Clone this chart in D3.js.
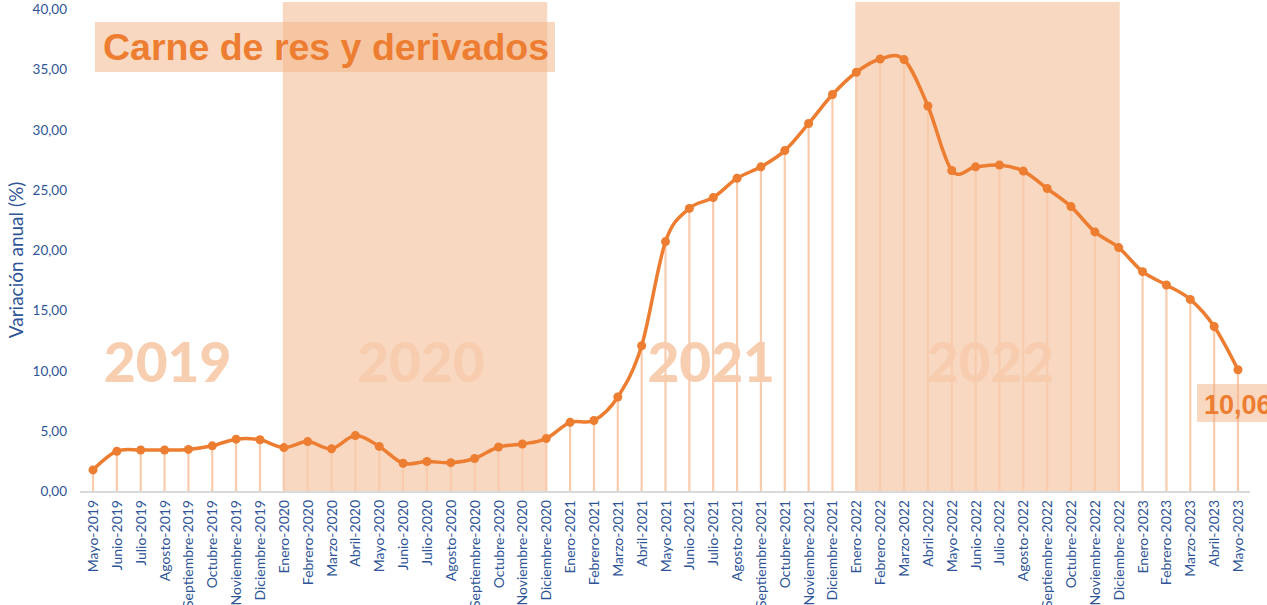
<!DOCTYPE html>
<html>
<head>
<meta charset="utf-8">
<script src="https://cdn.jsdelivr.net/npm/d3@7"></script>
<style>
  body { margin: 0; background: #fff; }
  svg { display: block; font-family: "Lato", "Open Sans", sans-serif; }
</style>
</head>
<body>
<svg id="chart" width="1267" height="605"></svg>
<script>
// data
const labels = [
  "Mayo-2019","Junio-2019","Julio-2019","Agosto-2019","Septiembre-2019","Octubre-2019","Noviembre-2019","Diciembre-2019",
  "Enero-2020","Febrero-2020","Marzo-2020","Abril-2020","Mayo-2020","Junio-2020","Julio-2020","Agosto-2020","Septiembre-2020","Octubre-2020","Noviembre-2020","Diciembre-2020",
  "Enero-2021","Febrero-2021","Marzo-2021","Abril-2021","Mayo-2021","Junio-2021","Julio-2021","Agosto-2021","Septiembre-2021","Octubre-2021","Noviembre-2021","Diciembre-2021",
  "Enero-2022","Febrero-2022","Marzo-2022","Abril-2022","Mayo-2022","Junio-2022","Julio-2022","Agosto-2022","Septiembre-2022","Octubre-2022","Noviembre-2022","Diciembre-2022",
  "Enero-2023","Febrero-2023","Marzo-2023","Abril-2023","Mayo-2023"
];
const values = [
  1.75, 3.3, 3.4, 3.4, 3.45, 3.75, 4.3, 4.25,
  3.6, 4.1, 3.5, 4.6, 3.7, 2.3, 2.45, 2.35, 2.7, 3.65, 3.9, 4.35,
  5.7, 5.85, 7.8, 12.05, 20.7, 23.45, 24.35, 25.95, 26.9, 28.25, 30.5, 32.9,
  34.75, 35.85, 35.8, 31.95, 26.6, 26.9, 27.05, 26.55, 25.1, 23.6, 21.5, 20.2,
  18.2, 17.1, 15.9, 13.65, 10.06
];
const yTicks = [0, 5, 10, 15, 20, 25, 30, 35, 40];
const bands = [["Enero-2020", "Diciembre-2020"], ["Enero-2022", "Diciembre-2022"]];
const years = ["2019", "2020", "2021", "2022"];
const yearAnchors = ["Agosto-2019", "Julio-2020", "Julio-2021", "Julio-2022"];
const title = "Carne de res y derivados";
const lastLabel = "10,06";

const orange = "#ED7D31";
const light = "#F8CBAD";
const blue = "#2F5597";
const yearShift = [3, -6, -2, -9];

const svg = d3.select("#chart");
const x = d3.scalePoint().domain(labels).range([93, 1238]);
const y = d3.scaleLinear().domain([0, 40]).range([491, 9]);
const fmt = v => d3.format(".2f")(v).replace(".", ",");

// shaded year bands
svg.append("g").selectAll("rect").data(bands).join("rect")
  .attr("x", d => x(d[0]) - 1)
  .attr("width", d => x(d[1]) - x(d[0]) + 2)
  .attr("y", 2)
  .attr("height", y(0) - 2)
  .attr("fill", "#F4B183").attr("fill-opacity", 0.5);

// title box
svg.append("rect").attr("x", 95).attr("y", 22).attr("width", 460).attr("height", 50)
  .attr("fill", "#F4B183").attr("fill-opacity", 0.5);
svg.append("text").attr("x", 103).attr("y", 60).text(title)
  .attr("font-family", "Liberation Sans, Arial, sans-serif")
  .attr("font-weight", "bold").attr("font-size", 37.5).attr("fill", orange);

// year watermarks
svg.append("g").selectAll("text").data(years).join("text")
  .attr("x", (d, i) => x(yearAnchors[i]) + yearShift[i]).attr("y", 382)
  .attr("text-anchor", "middle")
  .attr("font-family", "Lato, sans-serif").attr("font-weight", 900)
  .attr("font-size", 55).attr("fill", light).attr("fill-opacity", 0.95)
  .text(d => d);

// y axis labels
svg.append("g").selectAll("text").data(yTicks).join("text")
  .attr("x", 67).attr("y", d => y(d) + 5)
  .attr("text-anchor", "end").attr("font-size", 13.5).attr("fill", blue)
  .text(fmt);

svg.append("text")
  .attr("transform", `translate(23,${y(20) + 10}) rotate(-90)`)
  .attr("text-anchor", "middle").attr("font-size", 19).attr("fill", blue)
  .text("Variación anual (%)");

// drop lines
svg.append("g").selectAll("line").data(labels).join("line")
  .attr("x1", d => x(d)).attr("x2", d => x(d))
  .attr("y1", (d, i) => y(values[i])).attr("y2", y(0))
  .attr("stroke", light).attr("stroke-width", 2.2);

// x axis line
svg.append("line").attr("x1", 80).attr("x2", 1250).attr("y1", y(0) + 1).attr("y2", y(0) + 1)
  .attr("stroke", "#D9D9D9").attr("stroke-width", 2);

// x labels
svg.append("g").selectAll("text").data(labels).join("text")
  .attr("transform", d => `translate(${x(d) + 5},${y(0) + 9}) rotate(-90)`)
  .attr("text-anchor", "end").attr("font-size", 14).attr("fill", blue)
  .text(d => d);

// line
const line = d3.line()
  .x((d, i) => x(labels[i])).y(d => y(d))
  .curve(d3.curveCatmullRom.alpha(0));
svg.append("path").datum(values).attr("d", line)
  .attr("fill", "none").attr("stroke", orange).attr("stroke-width", 3.5);

svg.append("g").selectAll("circle").data(values).join("circle")
  .attr("cx", (d, i) => x(labels[i])).attr("cy", d => y(d)).attr("r", 4.5)
  .attr("fill", orange);

// final value label
svg.append("rect").attr("x", 1197).attr("y", 384).attr("width", 75).attr("height", 38)
  .attr("fill", "#F4B183").attr("fill-opacity", 0.5);
svg.append("text").attr("x", 1204).attr("y", 414).text(lastLabel)
  .attr("font-family", "Liberation Sans, Arial, sans-serif")
  .attr("font-weight", "bold").attr("font-size", 27).attr("fill", orange);
</script>
</body>
</html>
